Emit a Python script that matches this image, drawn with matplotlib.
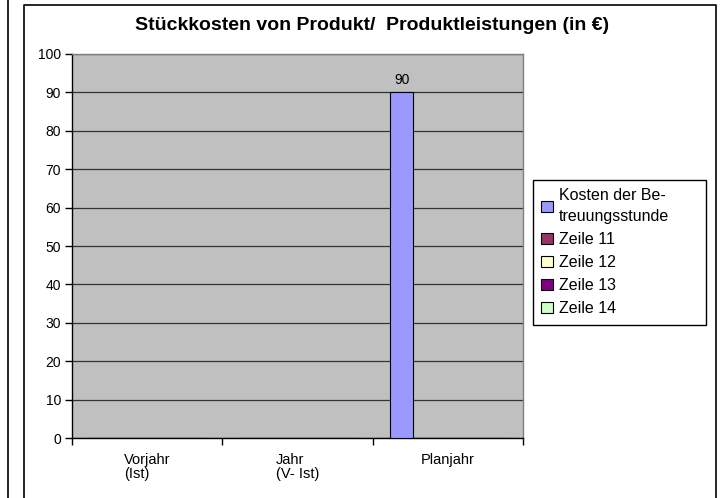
import matplotlib.pyplot as plt
import numpy as np
from matplotlib.patches import Rectangle
from matplotlib.lines import Line2D

plt.rcParams['font.family'] = ['Liberation Sans', 'DejaVu Sans']

categories = ['Vorjahr\n(Ist)', 'Jahr\n(V- Ist)', 'Planjahr']
series_names = ['Kosten der Be-\ntreuungsstunde', 'Zeile 11', 'Zeile 12', 'Zeile 13', 'Zeile 14']
series_colors = ['#9999FF', '#993366', '#FFFFCC', '#800080', '#CCFFCC']
values = {
    'Kosten der Be-\ntreuungsstunde': [0, 0, 90],
    'Zeile 11': [0, 0, 0],
    'Zeile 12': [0, 0, 0],
    'Zeile 13': [0, 0, 0],
    'Zeile 14': [0, 0, 0],
}
title = 'Stückkosten von Produkt/  Produktleistungen (in €)'

W, H = 724, 498
fig = plt.figure(figsize=(W / 100, H / 100), dpi=100)

# chart frame (open at the bottom) and the neighbouring border on the left
fig.add_artist(Line2D([24 / W, 24 / W, 716 / W, 716 / W], [0, 1 - 5 / H, 1 - 5 / H, 0],
                      color='black', lw=1.2, transform=fig.transFigure))
fig.add_artist(Line2D([8 / W, 8 / W], [0, 1], color='black', lw=1.2, transform=fig.transFigure))

left, right, top, bottom = 72, 523, 54, 438
ax = fig.add_axes([left / W, 1 - bottom / H, (right - left) / W, (bottom - top) / H])
ax.set_facecolor('#C0C0C0')

n = len(series_names)
gap = 1.5
bw = 1.0 / (n + gap)
x = np.arange(len(categories))
for i, name in enumerate(series_names):
    pos = x - 0.5 + gap * bw / 2 + i * bw + bw / 2
    vals = values[name]
    bars = ax.bar(pos, vals, width=bw, color=series_colors[i], edgecolor='black', linewidth=0.8,
                  label=name, zorder=3)
    for b, v in zip(bars, vals):
        if v > 0:
            ax.text(b.get_x() + b.get_width() / 2, v + 1.5, f'{v:g}', ha='center', va='bottom',
                    fontsize=10, zorder=4)

ax.set_xlim(-0.5, len(categories) - 0.5)
ax.set_ylim(0, 100)
ax.set_yticks(range(0, 101, 10))
ax.yaxis.grid(True, color='#333333', lw=0.9, zorder=1)
ax.set_axisbelow(True)
ax.tick_params(axis='y', direction='out', length=5, width=1, labelsize=10, pad=3)
ax.set_xticks(np.arange(-0.5, len(categories), 1.0))
ax.set_xticklabels([])
ax.tick_params(axis='x', direction='out', length=5, width=1)
for i, c in enumerate(categories):
    ax.text(i, -3.8, c, ha='center', va='top', multialignment='left', fontsize=10.5,
            linespacing=1.05, transform=ax.transData)
for s in ['top', 'right']:
    ax.spines[s].set_color('#808080')
    ax.spines[s].set_linewidth(1.0)
for s in ['left', 'bottom']:
    ax.spines[s].set_color('black')
    ax.spines[s].set_linewidth(1.0)

fig.text(372 / W, 1 - 26 / H, title, ha='center', va='center', fontsize=14, fontweight='bold')

# legend box is a bit wider than matplotlib would make it
fig.add_artist(Rectangle((533 / W, 1 - 325 / H), (706 - 533) / W, (325 - 180) / H,
                         transform=fig.transFigure, facecolor='white', edgecolor='black', lw=1.0))
handles = [Rectangle((0, 0), 1, 1, facecolor=c, edgecolor='black', lw=0.8) for c in series_colors]
leg = fig.legend(handles, series_names, loc='upper left', bbox_to_anchor=(535 / W, 1 - 182 / H),
                 frameon=False, fontsize=11.5,
                 handlelength=0.7, handleheight=0.7, handletextpad=0.4, labelspacing=0.5,
                 borderpad=0.4, borderaxespad=0)
for t in leg.get_texts():
    t.set_linespacing(1.5)

fig.savefig('out.png', dpi=100)
